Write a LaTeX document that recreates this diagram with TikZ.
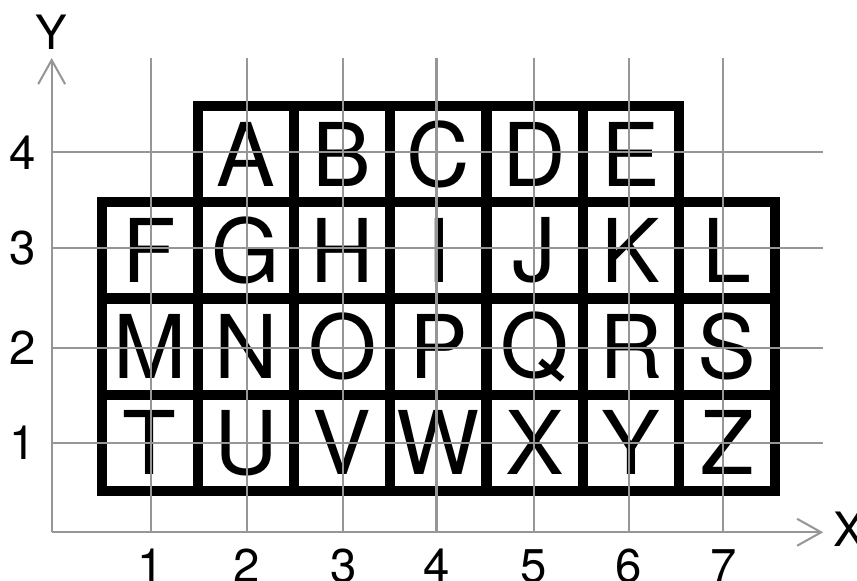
\documentclass[tikz,border=0pt]{standalone}
\usepackage{fontspec}
\setmainfont{TeX Gyre Heros}
\usetikzlibrary{arrows.meta}
\definecolor{gridgray}{RGB}{150,150,150}
\tikzset{
    gridline/.style={gridgray,line width=0.6pt},
    axisline/.style={gridgray,line width=0.6pt,-{Straight Barb[length=2.5mm,width=2.8mm]}},
    cellbox/.style={draw=black,line width=3pt,minimum size=1cm,inner sep=0pt,font=\fontsize{26}{30}\selectfont},
    ticklabel/.style={inner sep=0pt,font=\fontsize{14}{16}\selectfont}
}

\begin{document}
\begin{tikzpicture}
    \useasboundingbox (-0.537,-0.506) rectangle (8.371,5.533);
    % Letter cells
    \foreach \lt [count=\i from 2] in {A,B,C,D,E}
        \node[cellbox] (cell\lt) at (\i+0.02,3.93) {\lt};
    \foreach \lt [count=\i] in {F,G,H,I,J,K,L}
        \node[cellbox] (cell\lt) at (\i+0.02,2.93) {\lt};
    \foreach \lt [count=\i] in {M,N,O,P,Q,R,S}
        \node[cellbox] (cell\lt) at (\i+0.02,1.93) {\lt};
    \foreach \lt [count=\i] in {T,U,V,W,X,Y,Z}
        \node[cellbox] (cell\lt) at (\i+0.02,0.93) {\lt};
    % Axes
    \coordinate (O) at (0,0);
    \coordinate (xend) at (8.02,0);
    \coordinate (yend) at (0,4.93);
    \draw[axisline] (O) -- (xend);
    \draw[axisline] (O) -- (yend);
    \node[ticklabel,anchor=west] (xlabel) at (8.12,0.03) {X};
    \node[ticklabel,anchor=south] (ylabel) at (0,5.01) {Y};
    % Grid
    \foreach \gx/\lab in {1.03/1,2.03/2,3.03/3,4.00/4,5.01/5,6.00/6,6.98/7} {
        \draw[gridline] (\gx,0) -- (\gx,4.93);
        \node[ticklabel,anchor=north] (xtick\lab) at (\gx,-0.17) {\lab};
    }
    \foreach \gy/\lab in {0.93/1,1.92/2,2.95/3,3.95/4} {
        \draw[gridline] (0,\gy) -- (8.02,\gy);
        \node[ticklabel,anchor=east] (ytick\lab) at (-0.16,\gy) {\lab};
    }
\end{tikzpicture}
\end{document}
